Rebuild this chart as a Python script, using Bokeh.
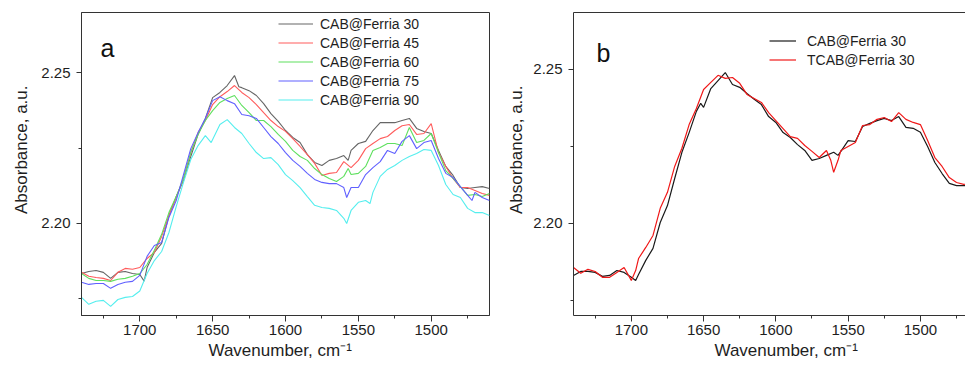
from bokeh.plotting import figure
from bokeh.layouts import row
from bokeh.models import (Range1d, Legend, LegendItem, Label, Title, LinearAxis,
                          SingleIntervalTicker, NumeralTickFormatter, FixedTicker)
from bokeh.embed import file_html
from bokeh.resources import INLINE

FONT = "Liberation Sans"

# ---------------- Panel a data ----------------
wn_30 = [1740, 1735, 1730, 1725, 1720, 1715, 1710, 1705, 1700, 1697,
         1695, 1690, 1685, 1680, 1675, 1670, 1665, 1660, 1655, 1650, 1645, 1640, 1635, 1632,
         1630, 1625, 1620, 1615, 1610, 1605, 1600, 1595, 1590, 1585, 1580, 1575, 1570, 1565, 1560, 1557,
         1555, 1550, 1545, 1540, 1535, 1530, 1525, 1520, 1515, 1510, 1505, 1500, 1495, 1490, 1485, 1480,
         1475, 1470, 1465, 1460]
abs_30 = [2.1834, 2.1841, 2.1844, 2.1838, 2.1818, 2.1838, 2.1841, 2.1834, 2.1831, 2.1809,
          2.1854, 2.1904, 2.1934, 2.2026, 2.2089, 2.2142, 2.2222, 2.2295, 2.2348, 2.2417, 2.2434, 2.2457, 2.2490, 2.2453,
          2.2450, 2.2440, 2.2424, 2.2397, 2.2364, 2.2338, 2.2308, 2.2285, 2.2268, 2.2228, 2.2202, 2.2192, 2.2209, 2.2215, 2.2225, 2.2209,
          2.2242, 2.2265, 2.2272, 2.2308, 2.2334, 2.2334, 2.2334, 2.2341, 2.2348, 2.2315, 2.2305, 2.2298, 2.2242, 2.2189, 2.2159, 2.2119,
          2.2116, 2.2119, 2.2122, 2.2116]

wn_45 = [1740, 1735, 1730, 1725, 1720, 1715, 1710, 1705, 1700,
         1695, 1690, 1685, 1680, 1675, 1670, 1665, 1660, 1655, 1650, 1645, 1640, 1635,
         1630, 1625, 1620, 1615, 1610, 1605, 1600, 1595, 1590, 1585, 1580, 1575, 1570, 1565, 1560,
         1555, 1550, 1545, 1540, 1535, 1530, 1525, 1520, 1515, 1510, 1505, 1500, 1495, 1490, 1485, 1480,
         1475, 1470, 1465, 1460]
abs_45 = [2.1838, 2.1825, 2.1821, 2.1818, 2.1811, 2.1838, 2.1851, 2.1848, 2.1854,
          2.1884, 2.1904, 2.1957, 2.2026, 2.2086, 2.2149, 2.2235, 2.2301, 2.2341, 2.2394, 2.2420, 2.2437, 2.2457,
          2.2434, 2.2417, 2.2394, 2.2367, 2.2341, 2.2321, 2.2305, 2.2281, 2.2255, 2.2228, 2.2199, 2.2159, 2.2166, 2.2169, 2.2205,
          2.2185, 2.2209, 2.2248, 2.2265, 2.2281, 2.2288, 2.2308, 2.2324, 2.2328, 2.2295, 2.2298, 2.2331, 2.2235, 2.2189, 2.2149, 2.2119,
          2.2119, 2.2109, 2.2099, 2.2093]

wn_60 = [1740, 1735, 1730, 1725, 1720, 1715, 1710, 1705, 1700,
         1695, 1690, 1685, 1680, 1675, 1670, 1665, 1660, 1655, 1650, 1645, 1640, 1635,
         1630, 1625, 1620, 1615, 1610, 1605, 1600, 1595, 1590, 1585, 1580, 1575, 1570, 1565, 1560, 1557,
         1555, 1550, 1545, 1540, 1535, 1530, 1525, 1520, 1515, 1510, 1505, 1500, 1495, 1490, 1485, 1480,
         1475, 1470, 1465, 1460]
abs_60 = [2.1834, 2.1818, 2.1811, 2.1811, 2.1808, 2.1815, 2.1818, 2.1825, 2.1834,
          2.1864, 2.1911, 2.1964, 2.2036, 2.2089, 2.2149, 2.2235, 2.2295, 2.2341, 2.2374, 2.2401, 2.2414, 2.2424,
          2.2391, 2.2367, 2.2341, 2.2341, 2.2321, 2.2295, 2.2272, 2.2242, 2.2222, 2.2209, 2.2182, 2.2162, 2.2149, 2.2139, 2.2156, 2.2182,
          2.2162, 2.2166, 2.2189, 2.2242, 2.2252, 2.2265, 2.2265, 2.2258, 2.2318, 2.2268, 2.2275, 2.2298, 2.2235, 2.2175, 2.2149, 2.2122,
          2.2093, 2.2096, 2.2089, 2.2099]

wn_75 = [1740, 1735, 1730, 1725, 1720, 1715, 1710, 1705, 1700,
         1695, 1690, 1685, 1680, 1675, 1670, 1665, 1660, 1655, 1650, 1645, 1640, 1635,
         1630, 1625, 1620, 1615, 1610, 1605, 1600, 1595, 1590, 1585, 1580, 1575, 1570, 1565, 1560, 1558,
         1555, 1550, 1545, 1540, 1535, 1530, 1525, 1520, 1515, 1510, 1505, 1500, 1495, 1490, 1485, 1480,
         1475, 1472, 1470, 1465, 1460]
abs_75 = [2.1805, 2.1798, 2.1801, 2.1801, 2.1785, 2.1798, 2.1805, 2.1808, 2.1828,
          2.1891, 2.1927, 2.1937, 2.2020, 2.2076, 2.2162, 2.2248, 2.2301, 2.2348, 2.2407, 2.2420, 2.2407, 2.2397,
          2.2361, 2.2357, 2.2348, 2.2318, 2.2288, 2.2265, 2.2235, 2.2209, 2.2189, 2.2166, 2.2146, 2.2136, 2.2132, 2.2132, 2.2119, 2.2086,
          2.2119, 2.2119, 2.2162, 2.2185, 2.2205, 2.2242, 2.2232, 2.2272, 2.2291, 2.2248, 2.2268, 2.2275, 2.2215, 2.2166, 2.2152, 2.2122,
          2.2093, 2.2076, 2.2103, 2.2086, 2.2076]

wn_90 = [1740, 1735, 1730, 1725, 1720, 1715, 1710, 1705, 1700,
         1695, 1690, 1685, 1680, 1675, 1670, 1665, 1660, 1655, 1651, 1645, 1640, 1635,
         1630, 1625, 1620, 1615, 1610, 1605, 1600, 1595, 1590, 1585, 1580, 1575, 1570, 1565, 1560, 1558,
         1555, 1550, 1545, 1542,
         1540, 1535, 1530, 1525, 1520, 1515, 1510, 1505, 1500, 1495, 1490, 1485, 1480,
         1475, 1470, 1465, 1460]
abs_90 = [2.1755, 2.1732, 2.1742, 2.1745, 2.1725, 2.1748, 2.1755, 2.1758, 2.1776,
          2.1834, 2.1877, 2.1907, 2.1970, 2.2056, 2.2136, 2.2212, 2.2258, 2.2291, 2.2268, 2.2328, 2.2344, 2.2318,
          2.2298, 2.2265, 2.2235, 2.2215, 2.2218, 2.2195, 2.2162, 2.2142, 2.2119, 2.2089, 2.2060, 2.2053, 2.2050, 2.2043, 2.2017, 2.2000,
          2.2043, 2.2070, 2.2076, 2.2066,
          2.2103, 2.2156, 2.2179, 2.2192, 2.2209, 2.2222, 2.2232, 2.2245, 2.2242, 2.2192, 2.2129, 2.2096, 2.2086,
          2.2050, 2.2036, 2.2036, 2.2026]

labels_a = ["CAB@Ferria 30", "CAB@Ferria 45", "CAB@Ferria 60", "CAB@Ferria 75", "CAB@Ferria 90"]
colors_a = ["#666666", "#ff5c5c", "#5fe05f", "#6060ff", "#55eeee"]

# ---------------- Panel b data ----------------
wn_b_cab = [1740, 1735, 1730, 1725, 1720, 1715, 1710, 1705, 1700, 1697,
            1695, 1690, 1685, 1680, 1675, 1670, 1665, 1660, 1655, 1652,
            1650, 1645, 1640, 1635, 1630, 1625, 1620, 1615, 1610, 1605, 1600, 1595, 1590, 1585, 1580,
            1575, 1570, 1565, 1560, 1557,
            1555, 1550, 1545, 1540, 1535, 1530, 1525, 1520, 1515, 1510, 1505, 1500, 1495, 1490, 1485,
            1480, 1475, 1470, 1465]
abs_b_cab = [2.1831, 2.1844, 2.1844, 2.1841, 2.1828, 2.1831, 2.1847, 2.1841, 2.1825, 2.1815,
             2.1834, 2.1880, 2.1919, 2.2003, 2.2058, 2.2146, 2.2231, 2.2295, 2.2364, 2.2390,
             2.2377, 2.2438, 2.2464, 2.2490, 2.2451, 2.2442, 2.2422, 2.2403, 2.2386, 2.2347, 2.2328, 2.2295, 2.2279, 2.2256, 2.2237,
             2.2205, 2.2211, 2.2221, 2.2231, 2.2221,
             2.2234, 2.2269, 2.2266, 2.2315, 2.2325, 2.2334, 2.2341, 2.2334, 2.2347, 2.2312, 2.2309, 2.2296, 2.2250, 2.2198, 2.2162,
             2.2130, 2.2123, 2.2123, 2.2120]

wn_b_tcab = [1740, 1735, 1730, 1725, 1720, 1715, 1710, 1705, 1700, 1697,
             1695, 1690, 1685, 1680, 1675, 1670, 1665, 1660, 1655, 1650, 1645, 1640, 1635,
             1630, 1625, 1620, 1615, 1610, 1605, 1600, 1595, 1590, 1585, 1580, 1575, 1570, 1565,
             1562, 1560, 1557,
             1555, 1550, 1545, 1540, 1535, 1530, 1525, 1520, 1515, 1510, 1505, 1500, 1495, 1490, 1485,
             1480, 1475, 1470, 1465]
abs_b_tcab = [2.1857, 2.1838, 2.1851, 2.1844, 2.1825, 2.1825, 2.1841, 2.1857, 2.1815, 2.1847,
              2.1886, 2.1922, 2.1961, 2.2049, 2.2101, 2.2185, 2.2244, 2.2321, 2.2373, 2.2435, 2.2458, 2.2481, 2.2471,
              2.2474, 2.2455, 2.2419, 2.2406, 2.2393, 2.2360, 2.2334, 2.2308, 2.2282, 2.2276, 2.2253, 2.2234, 2.2214, 2.2237,
              2.2205, 2.2166, 2.2205,
              2.2237, 2.2250, 2.2263, 2.2318, 2.2321, 2.2338, 2.2344, 2.2331, 2.2360, 2.2338, 2.2328, 2.2321, 2.2269, 2.2214, 2.2185,
              2.2149, 2.2133, 2.2127, 2.2133]

labels_b = ["CAB@Ferria 30", "TCAB@Ferria 30"]
colors_b = ["#1a1a1a", "#f01818"]

x_label = "Wavenumber, cm\u207b\u00b9"
y_label = "Absorbance, a.u."

AX = "#333333"
TXT = "#1e1e1e"


def style_axes(p):
    p.grid.visible = False
    for ax in p.xaxis:
        ax.ticker = SingleIntervalTicker(interval=50, num_minor_ticks=2)
        ax.major_tick_out = 6
        ax.minor_tick_out = 3
        ax.major_label_standoff = 3
    for ax in p.yaxis:
        ax.ticker = SingleIntervalTicker(interval=0.05, num_minor_ticks=2)
        ax.formatter = NumeralTickFormatter(format="0.00")
        ax.major_tick_out = 5
        ax.minor_tick_out = 3
        ax.major_label_standoff = 6
    for ax in list(p.xaxis) + list(p.yaxis):
        ax.major_tick_in = 0
        ax.minor_tick_in = 0
        ax.axis_line_color = AX
        ax.major_tick_line_color = AX
        ax.minor_tick_line_color = AX
        ax.major_label_text_font = FONT
        ax.major_label_text_font_size = "15px"
        ax.major_label_text_color = TXT


def add_titles(p, y_standoff, x_offset):
    p.add_layout(Title(text=y_label, align="right", offset=73, text_font=FONT,
                       text_font_size="17px", text_font_style="normal",
                       text_color=TXT, standoff=y_standoff), "left")
    p.add_layout(Title(text=x_label, align="left", offset=x_offset, text_font=FONT,
                       text_font_size="17px", text_font_style="normal",
                       text_color=TXT, standoff=2), "below")


def make_legend(p, items, loc, glyph_w, standoff):
    leg = Legend(items=items, location=loc)
    leg.border_line_color = None
    leg.background_fill_alpha = 0
    leg.padding = 0
    leg.margin = 0
    leg.spacing = 0
    leg.glyph_height = 19
    leg.label_height = 19
    leg.glyph_width = glyph_w
    leg.label_standoff = standoff
    leg.label_text_font = FONT
    leg.label_text_font_size = "14px"
    leg.label_text_color = TXT
    p.add_layout(leg)


# ---------------- Panel a ----------------
pa = figure(width=499, height=365, x_range=Range1d(1740, 1460), y_range=Range1d(2.1695, 2.2699),
            output_backend="svg", toolbar_location=None,
            min_border_left=81, min_border_right=10, min_border_top=12, min_border_bottom=50)
pa.outline_line_color = AX
pa.outline_line_alpha = 1
pa.background_fill_color = "white"
pa.border_fill_color = "white"
style_axes(pa)
add_titles(pa, 15, 127)

series_a = [(wn_30, abs_30), (wn_45, abs_45), (wn_60, abs_60), (wn_75, abs_75), (wn_90, abs_90)]
items_a = []
for (xs, ys), lab, col in zip(series_a, labels_a, colors_a):
    r = pa.line(xs, ys, line_color=col, line_width=1.1)
    items_a.append(LegendItem(label=lab, renderers=[r]))
make_legend(pa, items_a, (197, 206), 35, 7)
pa.add_layout(Label(x=19, y=268, x_units="screen", y_units="screen", text="a",
                    text_font=FONT, text_font_size="25px", text_baseline="alphabetic",
                    text_color="#111111"))

# ---------------- Panel b ----------------
pb = figure(width=466, height=365, x_range=Range1d(1740, 1468.8), y_range=Range1d(2.1701, 2.2685),
            output_backend="svg", toolbar_location=None,
            min_border_left=70, min_border_right=0, min_border_top=12, min_border_bottom=50)
pb.outline_line_color = None
pb.background_fill_color = "white"
pb.border_fill_color = "white"
style_axes(pb)
top_axis = LinearAxis(ticker=FixedTicker(ticks=[]), major_label_text_font_size="0px",
                      major_tick_line_color=None, minor_tick_line_color=None,
                      axis_line_color=AX)
pb.add_layout(top_axis, "above")
add_titles(pb, 10, 141)

series_b = [(wn_b_cab, abs_b_cab), (wn_b_tcab, abs_b_tcab)]
items_b = []
for (xs, ys), lab, col in zip(series_b, labels_b, colors_b):
    r = pb.line(xs, ys, line_color=col, line_width=1.2)
    items_b.append(LegendItem(label=lab, renderers=[r]))
make_legend(pb, items_b, (196, 246), 27, 11)
pb.add_layout(Label(x=23, y=263, x_units="screen", y_units="screen", text="b",
                    text_font=FONT, text_font_size="25px", text_baseline="alphabetic",
                    text_color="#111111"))

layout = row(pa, pb)
open("out.html", "w").write(file_html(layout, INLINE))
